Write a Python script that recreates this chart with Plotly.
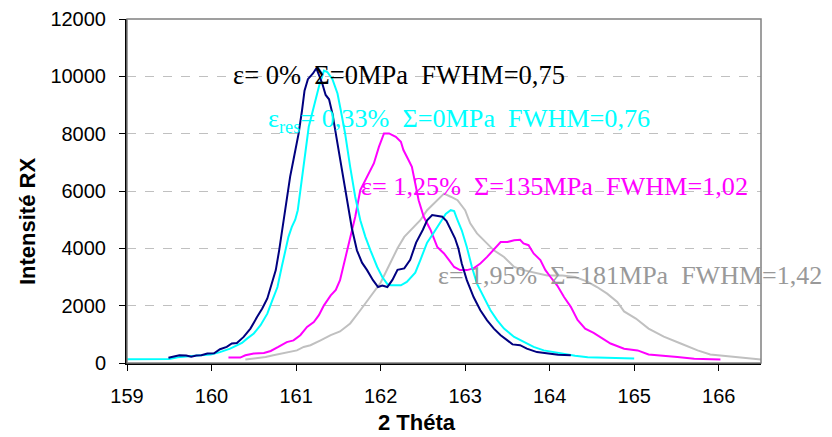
import plotly.graph_objects as go

# ---- data ----
navy_x = [159.49,159.55,159.62,159.70,159.76,159.82,159.88,159.95,160.03,160.10,160.18,160.24,160.30,160.38,160.46,160.54,160.60,160.66,160.72,160.76,160.80,160.83,160.87,160.93,160.97,161.03,161.07,161.10,161.14,161.20,161.24,161.28,161.31,161.35,161.39,161.43,161.47,161.52,161.57,161.62,161.66,161.72,161.78,161.84,161.91,161.97,162.02,162.08,162.14,162.20,162.28,162.35,162.42,162.50,162.55,162.61,162.67,162.73,162.78,162.83,162.88,162.92,162.96,163.02,163.10,163.18,163.26,163.34,163.42,163.50,163.56,163.65,163.73,163.85,163.97,164.10,164.25]
navy_y = [180,220,270,260,220,260,270,330,340,480,560,680,700,910,1200,1610,1900,2250,2830,3240,3930,4520,5300,6500,7100,8000,8800,9500,9900,10100,10280,10000,9750,9350,9200,8700,8000,7100,6200,5300,4700,3930,3500,3240,2890,2650,2700,2650,2900,3250,3300,3600,4200,4650,4980,5160,5120,5100,4950,4650,4350,4000,3470,2890,2300,1840,1490,1200,970,790,650,620,500,380,330,290,270]

cyan_x = [159.0,159.2,159.4,159.5,159.6,159.7,159.8,159.87,159.99,160.10,160.22,160.30,160.36,160.42,160.50,160.58,160.66,160.72,160.78,160.83,160.87,160.91,160.95,160.99,161.02,161.07,161.11,161.15,161.21,161.27,161.33,161.37,161.43,161.49,161.53,161.58,161.64,161.70,161.76,161.82,161.88,161.96,162.02,162.08,162.12,162.24,162.31,162.41,162.47,162.55,162.63,162.71,162.77,162.83,162.87,162.91,162.96,163.02,163.08,163.14,163.22,163.30,163.38,163.46,163.58,163.69,163.81,163.93,164.05,164.17,164.30,164.45,164.60,164.80,165.00]
cyan_y = [130,130,130,140,200,220,230,270,300,380,500,620,700,850,1030,1320,1720,2190,2650,3350,3930,4400,4750,5000,5330,6490,7430,8240,8940,9640,10200,10150,9900,9400,8800,8010,6840,5790,4980,4400,3930,3350,3000,2750,2710,2710,2830,3150,3590,4200,4550,4950,5200,5330,5300,4980,4630,4050,3350,2770,2300,1840,1490,1200,910,730,560,440,380,300,250,200,190,170,160]

mag_x = [160.20,160.34,160.40,160.50,160.62,160.70,160.79,160.89,160.97,161.05,161.13,161.21,161.27,161.33,161.41,161.47,161.52,161.58,161.64,161.70,161.76,161.84,161.92,161.98,162.04,162.10,162.18,162.24,162.27,162.33,162.37,162.41,162.45,162.51,162.59,162.67,162.75,162.81,162.87,162.94,163.02,163.10,163.18,163.26,163.36,163.42,163.50,163.58,163.65,163.69,163.75,163.81,163.89,163.95,164.01,164.09,164.17,164.25,164.33,164.42,164.52,164.62,164.72,164.88,165.04,165.17,165.31,165.51,165.71,166.02]
mag_y = [190,190,270,330,350,420,560,730,790,970,1260,1430,1670,2010,2360,2550,2890,3600,4400,5100,6030,6490,6960,7540,8010,8010,7890,7720,7430,7080,6840,6260,5680,5100,4650,4050,3820,3590,3350,3240,3240,3300,3470,3700,4050,4220,4220,4280,4300,4170,4110,3820,3590,3240,3000,2700,2300,1960,1500,1200,1050,850,680,500,440,300,270,210,150,120]

gray_x = [160.40,160.52,160.64,160.73,160.83,160.93,161.01,161.09,161.17,161.29,161.41,161.52,161.64,161.76,161.88,162.00,162.10,162.20,162.28,162.39,162.47,162.55,162.67,162.75,162.83,162.91,163.00,163.06,163.14,163.22,163.34,163.46,163.58,163.69,163.85,163.97,164.15,164.30,164.44,164.56,164.68,164.80,164.88,165.02,165.17,165.35,165.55,165.75,165.90,166.06,166.26,166.50]
gray_y = [120,160,210,270,330,380,440,560,620,790,970,1100,1380,1840,2300,2800,3400,4000,4400,4750,4980,5330,5700,5910,5800,5680,5330,4870,4520,4280,3930,3700,3350,3240,3120,3050,3050,3000,2850,2650,2420,2130,1800,1550,1200,920,680,440,300,250,200,120]

x_ticks = [159,160,161,162,163,164,165,166]
y_ticks = [0,2000,4000,6000,8000,10000,12000]

labels = [
    "ε=\u00a00%\u00a0\u00a0Σ=0MPa\u00a0\u00a0FWHM=0,75",
    "ε<sub>res</sub>=\u00a00,33%\u00a0\u00a0Σ=0MPa\u00a0\u00a0FWHM=0,76",
    "ε=\u00a01,25%\u00a0\u00a0Σ=135MPa\u00a0\u00a0FWHM=1,02",
    "ε=\u00a01,95%\u00a0\u00a0Σ=181MPa\u00a0\u00a0FWHM=1,42",
]
label_x = [162.217, 162.93, 164.055, 164.955]
label_y = [10040, 8470, 6170, 3060]
label_colors = ["#000000", "#00FFFF", "#FF00FF", "#999999"]
label_sizes = [26.5, 26.2, 26.2, 26]

x_title = "2 Théta"
y_title = "Intensité RX"

fig = go.Figure()
for xs, ys, col in [(gray_x, gray_y, "#C0C0C0"), (mag_x, mag_y, "#FF00FF"),
                    (cyan_x, cyan_y, "#00FFFF"), (navy_x, navy_y, "#000080")]:
    fig.add_trace(go.Scatter(x=xs, y=ys, mode="lines",
                             line=dict(color=col, width=2), showlegend=False,
                             hoverinfo="skip"))

for t, x, y, c, s in zip(labels, label_x, label_y, label_colors, label_sizes):
    fig.add_annotation(x=x, y=y, text=t, showarrow=False, xanchor="center",
                       yanchor="middle", borderpad=0,
                       font=dict(family="Liberation Serif, Times New Roman, serif",
                                 size=s, color=c))

# axis titles (offset from the plot centre as in the reference)
fig.add_annotation(xref="paper", yref="paper", x=0.457, y=-0.174, text=x_title,
                   showarrow=False, xanchor="center", yanchor="middle",
                   font=dict(family="Arial, Liberation Sans, sans-serif", size=22,
                             color="#000000", weight="bold"))
fig.add_annotation(xref="paper", yref="paper", x=-0.156, y=0.41, text=y_title,
                   showarrow=False, xanchor="center", yanchor="middle", textangle=-90,
                   font=dict(family="Arial, Liberation Sans, sans-serif", size=22,
                             color="#000000", weight="bold"))

fig.add_shape(type="rect", xref="paper", yref="paper", x0=0, y0=0, x1=1, y1=1,
              line=dict(color="#808080", width=1.5), layer="above")

tickfont = dict(family="Arial, Liberation Sans, sans-serif", size=20, color="#000000")

fig.update_layout(
    width=832, height=437,
    margin=dict(l=119, r=79, t=11, b=82),
    paper_bgcolor="white", plot_bgcolor="white",
    showlegend=False,
    xaxis=dict(range=[159, 166.5], tickvals=x_ticks, ticks="outside", ticklen=6,
               tickcolor="#000000", showline=True, linecolor="#000000", linewidth=2,
               showgrid=False, zeroline=False, tickfont=tickfont,
               ticklabelstandoff=8, automargin=False),
    yaxis=dict(range=[0, 12000], tickvals=y_ticks, ticks="outside", ticklen=6,
               tickformat="d", automargin=False,
               tickcolor="#000000", showline=True, linecolor="#000000", linewidth=2,
               showgrid=True, gridcolor="#C0C0C0", griddash="dash", gridwidth=1,
               zeroline=False, tickfont=tickfont, ticklabelstandoff=9),
)

fig.write_html("out.html")
